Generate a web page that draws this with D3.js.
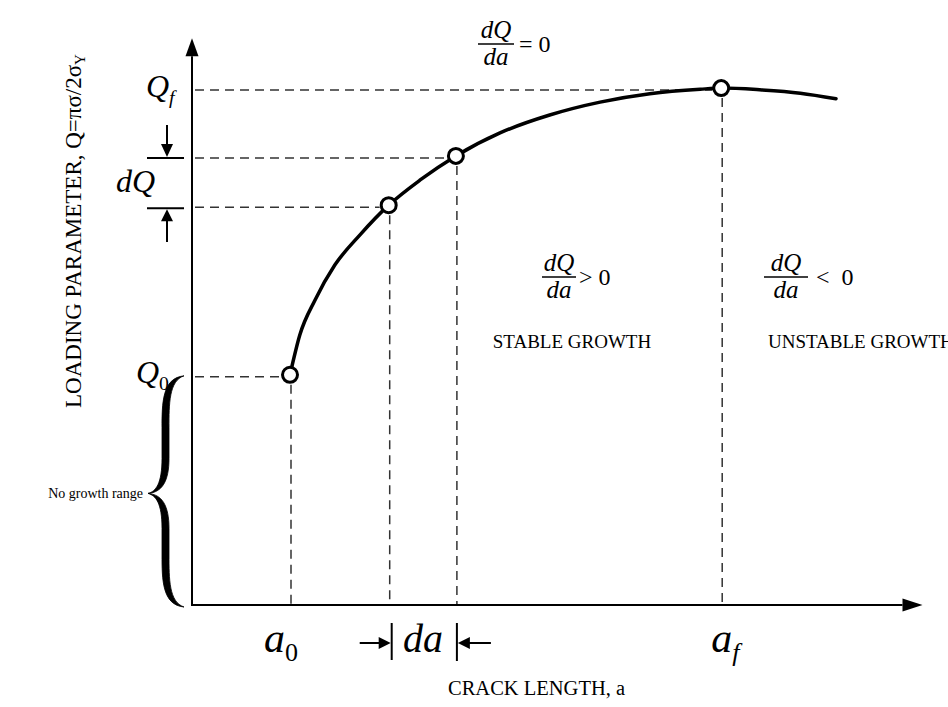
<!DOCTYPE html>
<html>
<head>
<meta charset="utf-8">
<script src="https://cdn.jsdelivr.net/npm/d3@7"></script>
<style>
  html, body { margin: 0; padding: 0; background: #fff; }
  svg { display: block; }
  text { font-family: "Liberation Serif", "Times New Roman", serif; fill: #000; }
  .math { font-style: italic; }
</style>
</head>
<body>
<svg id="chart" width="948" height="707"></svg>
<script>
// Crack length a and loading parameter Q along the growth curve (arbitrary units)
const crackLength = [14.0, 15.4, 17.6, 20.4, 24.0, 28.1, 32.6, 37.7, 44.0, 51.1, 58.3, 65.4, 72.6, 75.6, 81.1, 86.9, 92.0];
const loading     = [41.1, 48.2, 54.5, 60.7, 66.1, 71.4, 75.9, 80.2, 84.3, 87.5, 89.8, 91.3, 92.1, 92.3, 92.0, 91.4, 90.4];

// Marked states: initiation (a0, Q0), the increment da / dQ, instability (af, Qf)
const markedA = [14.0, 28.1, 37.7, 75.6];
const markedQ = [41.1, 71.4, 80.2, 92.3];

// Text
const xTitle = "CRACK LENGTH, a";
const yTitle = "LOADING PARAMETER, Q=πσ/2σ";
const yTitleSub = "Y";
const regionLabels = ["STABLE GROWTH", "UNSTABLE GROWTH"];
const slopeRelations = ["= 0", "> 0", "<  0"];
const braceLabel = "No growth range";

const svg = d3.select("#chart");

const x = d3.scaleLinear().domain([0, 100]).range([192, 892]);
const y = d3.scaleLinear().domain([0, 100]).range([605, 45]);

const curveData = crackLength.map((a, i) => [a, loading[i]]);
const marks = markedA.map((a, i) => [a, markedQ[i]]);

// ---- axes (domain lines only) with arrowheads ----
const xAxis = d3.axisBottom(x).ticks(0).tickSizeOuter(0);
const yAxis = d3.axisLeft(y).ticks(0).tickSizeOuter(0);
const xEnd = 101.5, yEnd = 98;
svg.append("g").attr("transform", `translate(0,${y(0)})`).call(xAxis)
  .call(g => g.select(".domain").attr("stroke", "#000").attr("stroke-width", 2)
    .attr("d", `M${x(0)},0H${x(xEnd)}`));
svg.append("g").attr("transform", `translate(${x(0)},0)`).call(yAxis)
  .call(g => g.select(".domain").attr("stroke", "#000").attr("stroke-width", 2)
    .attr("d", `M0,${y(0) + 1}V${y(yEnd)}`));

const xe = x(xEnd), ye = y(yEnd);
svg.append("path").attr("d", `M${xe},${y(0) - 6.5}L${xe + 20},${y(0)}L${xe},${y(0) + 6.5}Z`).attr("fill", "#000");
svg.append("path").attr("d", `M${x(0) - 6.5},${ye}L${x(0)},${ye - 18}L${x(0) + 6.5},${ye}Z`).attr("fill", "#000");

// ---- dashed guide lines ----
const guide = svg.append("g").attr("stroke", "#333").attr("stroke-width", 1.5)
  .attr("stroke-dasharray", "9,6").attr("fill", "none");
marks.forEach(([a, q]) => {
  guide.append("line").attr("x1", x(0) + 3).attr("x2", x(a) - 9).attr("y1", y(q) + 2).attr("y2", y(q) + 2);
  guide.append("line").attr("x1", x(a) + 1).attr("x2", x(a) + 1).attr("y1", y(q) + 10).attr("y2", y(0) - 1);
});

// ---- growth curve ----
svg.append("path")
  .datum(curveData)
  .attr("fill", "none").attr("stroke", "#000").attr("stroke-width", 3.5)
  .attr("stroke-linecap", "round")
  .attr("d", d3.line().x(d => x(d[0])).y(d => y(d[1])).curve(d3.curveMonotoneX));

svg.append("g").selectAll("circle").data(marks).join("circle")
  .attr("cx", d => x(d[0])).attr("cy", d => y(d[1])).attr("r", 7.5)
  .attr("fill", "#fff").attr("stroke", "#000").attr("stroke-width", 3);

// ---- Q labels on the loading axis ----
function symbol(px, py, main, sub, size, subItalic) {
  const t = svg.append("text").attr("x", px).attr("y", py).attr("font-size", size);
  t.append("tspan").attr("class", "math").text(main);
  if (sub) t.append("tspan").attr("class", subItalic ? "math" : null)
    .attr("font-size", size * 0.62).attr("dy", size * 0.22).text(sub);
  return t;
}
symbol(146, y(markedQ[3]) + 9, "Q", "f", 32, true);
symbol(136, y(markedQ[0]) + 8, "Q", "0", 32, false);
symbol(116, (y(markedQ[1]) + y(markedQ[2])) / 2 + 11, "dQ", null, 32);

// dQ dimension arrows
const dq = svg.append("g").attr("stroke", "#000").attr("stroke-width", 2);
dq.append("line").attr("x1", 147).attr("x2", 184).attr("y1", y(markedQ[2]) + 2).attr("y2", y(markedQ[2]) + 2);
dq.append("line").attr("x1", 147).attr("x2", 184).attr("y1", y(markedQ[1]) + 3).attr("y2", y(markedQ[1]) + 3);
dq.append("line").attr("x1", 167).attr("x2", 167).attr("y1", 125).attr("y2", y(markedQ[2]) - 10);
dq.append("line").attr("x1", 167).attr("x2", 167).attr("y1", 242).attr("y2", y(markedQ[1]) + 14);
svg.append("path").attr("fill", "#000")
  .attr("d", `M161,${y(markedQ[2]) - 12}L173,${y(markedQ[2]) - 12}L167,${y(markedQ[2]) + 1}Z`);
svg.append("path").attr("fill", "#000")
  .attr("d", `M161,${y(markedQ[1]) + 16}L173,${y(markedQ[1]) + 16}L167,${y(markedQ[1]) + 4}Z`);

// ---- a labels on the crack-length axis ----
symbol(x(markedA[0]) - 26, 652, "a", "0", 42, false);
symbol(x(markedA[3]) - 10, 652, "a", "f", 42, true);
svg.append("text").attr("class", "math").attr("x", 403).attr("y", 652).attr("font-size", 40).text("da");

// da dimension arrows
const da = svg.append("g").attr("stroke", "#000").attr("stroke-width", 2);
const ax1 = x(markedA[1]) + 3, ax2 = x(markedA[2]) + 1, ay = 643;
da.append("line").attr("x1", ax1).attr("x2", ax1).attr("y1", 623).attr("y2", 660);
da.append("line").attr("x1", ax2).attr("x2", ax2).attr("y1", 623).attr("y2", 661);
da.append("line").attr("x1", ax1 - 32).attr("x2", ax1 - 10).attr("y1", ay).attr("y2", ay);
da.append("line").attr("x1", ax2 + 34).attr("x2", ax2 + 10).attr("y1", ay).attr("y2", ay);
svg.append("path").attr("fill", "#000").attr("d", `M${ax1 - 13},${ay - 6}L${ax1 - 1},${ay}L${ax1 - 13},${ay + 6}Z`);
svg.append("path").attr("fill", "#000").attr("d", `M${ax2 + 13},${ay - 6}L${ax2 + 1},${ay}L${ax2 + 13},${ay + 6}Z`);

// ---- slope fractions ----
function fraction(cx, barY, w, rel, relGap) {
  const g = svg.append("g");
  g.append("text").attr("class", "math").attr("x", cx).attr("y", barY - 6)
    .attr("text-anchor", "middle").attr("font-size", 25).text("dQ");
  g.append("line").attr("x1", cx - w / 2).attr("x2", cx + w / 2).attr("y1", barY).attr("y2", barY)
    .attr("stroke", "#000").attr("stroke-width", 1.3);
  g.append("text").attr("class", "math").attr("x", cx).attr("y", barY + 21)
    .attr("text-anchor", "middle").attr("font-size", 25).text("da");
  g.append("text").attr("x", cx + w / 2 + relGap).attr("y", barY + 8)
    .attr("font-size", 24).attr("xml:space", "preserve").style("white-space", "pre").text(rel);
}
fraction(496, 44, 36, slopeRelations[0], 5);
fraction(559, 277, 34, slopeRelations[1], 3);
fraction(786, 277, 44, slopeRelations[2], 8);

// region captions
svg.append("text").attr("x", 572).attr("y", 348).attr("text-anchor", "middle")
  .attr("font-size", 19).text(regionLabels[0]);
svg.append("text").attr("x", 768).attr("y", 348)
  .attr("font-size", 19).text(regionLabels[1]);

// ---- axis titles ----
svg.append("text").attr("x", 448).attr("y", 695).attr("font-size", 20.5).text(xTitle);
const yt = svg.append("text").attr("transform", "translate(81,231) rotate(-90)")
  .attr("text-anchor", "middle").attr("font-size", 23);
yt.append("tspan").text(yTitle);
yt.append("tspan").attr("font-size", 15).attr("dy", 4).text(yTitleSub);

// ---- brace for the no-growth range ----
const by0 = y(markedQ[0]) + 1, by1 = y(0) + 2, bym = (by0 + by1) / 2 + 2;
const bxr = 184, bxm = 165, bxt = 148;
const bracePath = [
  `M${bxr},${by0}`,
  `C${bxm - 3},${by0 + 2} ${bxm - 3},${by0 + 28} ${bxm - 3},${by0 + 52}`,
  `L${bxm - 3},${bym - 35}`,
  `C${bxm - 3},${bym - 10} ${bxt + 8},${bym - 2} ${bxt},${bym}`,
  `C${bxt + 8},${bym + 2} ${bxm - 3},${bym + 10} ${bxm - 3},${bym + 35}`,
  `L${bxm - 3},${by1 - 52}`,
  `C${bxm - 3},${by1 - 28} ${bxm - 3},${by1 - 2} ${bxr},${by1}`,
  `C${bxm + 4},${by1 - 5} ${bxm + 4},${by1 - 28} ${bxm + 4},${by1 - 52}`,
  `L${bxm + 4},${bym + 35}`,
  `C${bxm + 4},${bym + 12} ${bxt + 14},${bym + 1} ${bxt},${bym}`,
  `C${bxt + 14},${bym - 1} ${bxm + 4},${bym - 12} ${bxm + 4},${bym - 35}`,
  `L${bxm + 4},${by0 + 52}`,
  `C${bxm + 4},${by0 + 28} ${bxm + 4},${by0 + 5} ${bxr},${by0}Z`
].join("");
svg.append("path").attr("d", bracePath).attr("fill", "#000").attr("stroke", "#000").attr("stroke-width", 0.8);

svg.append("text").attr("x", 143).attr("y", bym + 5).attr("text-anchor", "end")
  .attr("font-size", 14).text(braceLabel);
</script>
</body>
</html>
